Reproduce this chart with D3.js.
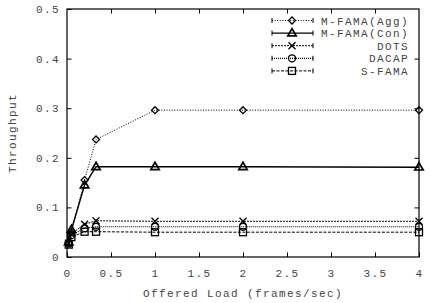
<!DOCTYPE html>
<html>
<head>
<meta charset="utf-8">
<script src="https://cdn.jsdelivr.net/npm/d3@7"></script>
<style>
  body { margin: 0; background: #fff; }
  text { font-family: "Liberation Mono", "DejaVu Sans Mono", monospace; font-size: 11px; letter-spacing: 1.4px; fill: #444; }
</style>
</head>
<body>
<svg id="chart" width="431" height="303"></svg>
<script>
// offered load values (frames/sec)
var loads = [0.02, 0.05, 0.2, 0.33, 1, 2, 4];

// throughput per protocol
var aggVals   = [0.028, 0.050, 0.155, 0.237, 0.296, 0.296, 0.296];
var conVals   = [0.030, 0.055, 0.145, 0.182, 0.182, 0.182, 0.181];
var dotsVals  = [0.028, 0.047, 0.066, 0.073, 0.072, 0.072, 0.072];
var dacapVals = [0.027, 0.044, 0.058, 0.061, 0.061, 0.061, 0.061];
var sfamaVals = [0.025, 0.040, 0.051, 0.051, 0.050, 0.050, 0.050];

var seriesNames = ["M-FAMA(Agg)", "M-FAMA(Con)", "DOTS", "DACAP", "S-FAMA"];
var xTicks = [0, 0.5, 1, 1.5, 2, 2.5, 3, 3.5, 4];
var yTicks = [0, 0.1, 0.2, 0.3, 0.4, 0.5];

var series = [
  { name: seriesNames[0], vals: aggVals,   dash: "1,1.6", width: 1,   mark: "diamond" },
  { name: seriesNames[1], vals: conVals,   dash: null,    width: 1.4, mark: "triangle" },
  { name: seriesNames[2], vals: dotsVals,  dash: "2,1",   width: 1,   mark: "cross" },
  { name: seriesNames[3], vals: dacapVals, dash: "1,1",   width: 1.2, mark: "circle" },
  { name: seriesNames[4], vals: sfamaVals, dash: "3,1.5", width: 1,   mark: "square" }
];

var L = 67, R = 419, T = 9, B = 257;
var svg = d3.select("#chart");

var x = d3.scaleLinear().domain([0, 4]).range([L, R]);
var y = d3.scaleLinear().domain([0, 0.5]).range([B, T]);

// frame
svg.append("rect").attr("x", L).attr("y", T).attr("width", R - L).attr("height", B - T)
  .attr("fill", "none").attr("stroke", "#000").attr("stroke-width", 1.2);

// axes with inward ticks, mirrored on top and right
var tk = 4.5;
var fmtY = d => d === 0 ? "0" : d3.format(".1f")(d);
var fmtX = d => d === 0 ? "0" : String(d);

svg.append("g").attr("transform", "translate(0," + B + ")")
  .call(d3.axisBottom(x).tickValues(xTicks).tickSize(-tk).tickPadding(12).tickFormat(fmtX))
  .call(g => g.select(".domain").remove());
svg.append("g").attr("transform", "translate(0," + T + ")")
  .call(d3.axisTop(x).tickValues(xTicks.slice(1, -1)).tickSize(-tk).tickFormat(""))
  .call(g => g.select(".domain").remove());
svg.append("g").attr("transform", "translate(" + L + ",0)")
  .call(d3.axisLeft(y).tickValues(yTicks).tickSize(-tk).tickPadding(7).tickFormat(fmtY))
  .call(g => g.select(".domain").remove());
svg.append("g").attr("transform", "translate(" + R + ",0)")
  .call(d3.axisRight(y).tickValues(yTicks.slice(1, -1)).tickSize(-tk).tickFormat(""))
  .call(g => g.select(".domain").remove());

svg.selectAll(".tick line").attr("stroke", "#000");
svg.selectAll(".tick text").attr("font-family", null).attr("font-size", null).style("fill", "#444");

// axis titles
svg.append("text").attr("x", (L + R) / 2).attr("y", 297).attr("text-anchor", "middle")
  .text("Offered Load (frames/sec)");
svg.append("text").attr("transform", "translate(16," + (T + B) / 2 + ") rotate(-90)")
  .attr("text-anchor", "middle").text("Throughput");

// marker drawing component
function marker(sel, kind) {
  var s = 3.5;
  sel.attr("fill", "none").attr("stroke", "#000").attr("stroke-width", 1.3);
  if (kind === "diamond")
    sel.append("path").attr("d", "M0," + (-s) + "L" + s + ",0L0," + s + "L" + (-s) + ",0Z");
  else if (kind === "triangle")
    sel.append("path").attr("d", "M0,-4.5L4.2,2.8L-4.2,2.8Z").attr("stroke-width", 1.7);
  else if (kind === "cross")
    sel.append("path").attr("d", "M-3.5,-3.5L3.5,3.5M-3.5,3.5L3.5,-3.5");
  else if (kind === "circle")
    sel.append("circle").attr("r", s);
  else
    sel.append("rect").attr("x", -s).attr("y", -s).attr("width", 2 * s).attr("height", 2 * s);
}

var line = d3.line().x((d, i) => x(loads[i])).y(d => y(d));

series.forEach(function(s) {
  svg.append("path").datum(s.vals).attr("d", line)
    .attr("fill", "none").attr("stroke", "#000")
    .attr("stroke-width", s.width).attr("stroke-dasharray", s.dash);
  svg.append("g").selectAll("g").data(s.vals).enter().append("g")
    .attr("transform", (d, i) => "translate(" + x(loads[i]) + "," + y(d) + ")")
    .each(function() { marker(d3.select(this), s.mark); });
});

// legend
var leg = svg.append("g").selectAll("g").data(series).enter().append("g")
  .attr("transform", (d, i) => "translate(0," + (20.5 + i * 12.6) + ")");
leg.append("line").attr("x1", 272).attr("x2", 313)
  .attr("stroke", "#000").attr("stroke-width", d => d.width)
  .attr("stroke-dasharray", d => d.dash);
leg.append("path").attr("d", "M272,-2.5V2.5M313,-2.5V2.5").attr("stroke", "#000");
leg.append("g").attr("transform", "translate(292,0)")
  .each(function(d) { marker(d3.select(this), d.mark); });
leg.append("text").attr("x", 409).attr("y", 4).attr("text-anchor", "end").text(d => d.name);
</script>
</body>
</html>
